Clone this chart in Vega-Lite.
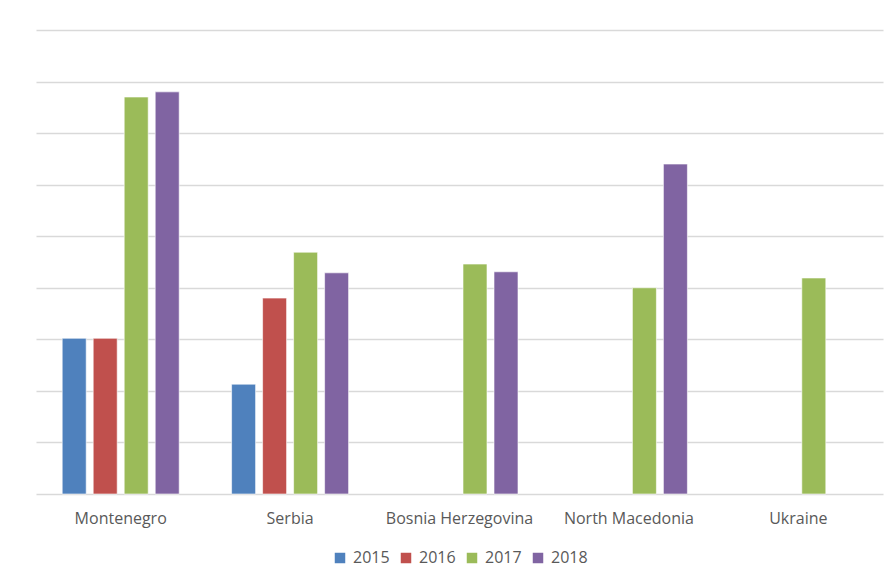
{
  "$schema": "https://vega.github.io/schema/vega-lite/v6.json",
  "width": 847,
  "height": 464,
  "autosize": {"type": "none"},
  "padding": {"left": 36, "top": 30, "right": 11, "bottom": 91},
  "background": "white",
  "config": {
    "view": {"stroke": null},
    "font": "Open Sans",
    "legend": {"layout": {"bottom": {"anchor": "middle"}}}
  },
  "data": {
    "values": [
      {"country": "Montenegro", "year": "2015", "value": 3.02},
      {"country": "Montenegro", "year": "2016", "value": 3.02},
      {"country": "Montenegro", "year": "2017", "value": 7.7},
      {"country": "Montenegro", "year": "2018", "value": 7.8},
      {"country": "Serbia", "year": "2015", "value": 2.13},
      {"country": "Serbia", "year": "2016", "value": 3.8},
      {"country": "Serbia", "year": "2017", "value": 4.69},
      {"country": "Serbia", "year": "2018", "value": 4.29},
      {"country": "Bosnia Herzegovina", "year": "2017", "value": 4.46},
      {"country": "Bosnia Herzegovina", "year": "2018", "value": 4.31},
      {"country": "North Macedonia", "year": "2017", "value": 4.0},
      {"country": "North Macedonia", "year": "2018", "value": 6.4},
      {"country": "Ukraine", "year": "2017", "value": 4.19}
    ]
  },
  "mark": {"type": "bar", "stroke": "white", "strokeWidth": 0.6},
  "encoding": {
    "x": {
      "field": "country",
      "type": "nominal",
      "sort": ["Montenegro", "Serbia", "Bosnia Herzegovina", "North Macedonia", "Ukraine"],
      "scale": {"paddingInner": 0.268, "paddingOuter": 0.134},
      "axis": {
        "title": null,
        "labelAngle": 0,
        "labelFontSize": 16,
        "labelColor": "#595959",
        "labelPadding": 16,
        "ticks": false,
        "domainColor": "#d9d9d9",
        "domainWidth": 1.5
      }
    },
    "xOffset": {
      "field": "year",
      "type": "nominal",
      "scale": {"domain": ["2015", "2016", "2017", "2018"], "paddingInner": 0.226, "paddingOuter": 0.113}
    },
    "y": {
      "field": "value",
      "type": "quantitative",
      "scale": {"domain": [0, 9], "nice": false},
      "axis": {
        "title": null,
        "labels": false,
        "ticks": false,
        "domain": false,
        "values": [1, 2, 3, 4, 5, 6, 7, 8, 9],
        "gridColor": "#d9d9d9",
        "gridWidth": 1.5
      }
    },
    "color": {
      "field": "year",
      "type": "nominal",
      "scale": {"domain": ["2015", "2016", "2017", "2018"], "range": ["#4f81bd", "#c0504d", "#9bbb59", "#8064a2"]},
      "legend": {
        "title": null,
        "orient": "bottom",
        "direction": "horizontal",
        "symbolType": "square",
        "symbolSize": 110,
        "symbolStrokeWidth": 0,
        "labelFontSize": 16,
        "labelColor": "#595959",
        "columnPadding": 8,
        "labelOffset": 5,
        "offset": 24
      }
    }
  }
}
